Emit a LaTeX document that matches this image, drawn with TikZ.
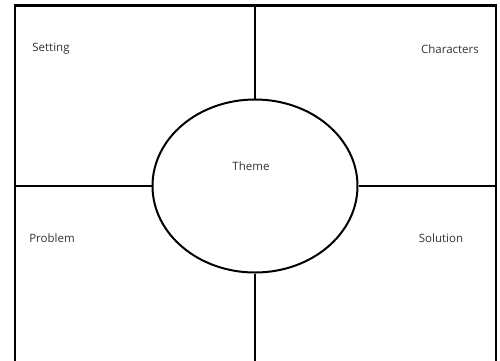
\documentclass[tikz,border=0pt]{standalone}
\usepackage{fontspec}
\setmainfont{Open Sans}
\usepackage{tikz}
\usetikzlibrary{shapes.geometric, positioning}

\tikzset{
	frameline/.style={line width=2.2pt, black},
	divider/.style={line width=1.8pt, black},
	label/.style={font=\fontsize{11.5}{13}\selectfont, text=black!80},
}

\begin{document}
\begin{tikzpicture}[x=1pt, y=-1pt]
			% Canvas:
			\useasboundingbox (0, 0) rectangle (500, 360);
			% Frame corners (open at the bottom):
			\coordinate (BL) at (15, 362);
			\coordinate (TL) at (15, 5.5);
			\coordinate (TR) at (496, 5.5);
			\coordinate (BR) at (496, 362);
			\draw[frameline] (BL) -- (TL) -- (TR) -- (BR);
			% Centre ellipse:
			\node[ellipse, draw, line width=2pt, minimum width=205pt, minimum height=173pt, inner sep=0pt](Th) at (255, 186){};
			\node[label] (ThL) at (251, 166){Theme};
			% Dividers from the ellipse to the frame:
			\coordinate (TopC) at (255, 5.5);
			\coordinate (BotC) at (255, 362);
			\coordinate (LeftC) at (15, 186);
			\coordinate (RightC) at (496, 186);
			\draw[divider] (Th.north) -- (TopC);
			\draw[divider] (Th.south) -- (BotC);
			\draw[divider] (Th.west) -- (LeftC);
			\draw[divider] (Th.east) -- (RightC);
			% Corner labels:
			\node[label] (Set) at (51, 49){Setting};
			\node[label] (Cha) at (450, 49){Characters};
			\node[label] (Pro) at (52, 238){Problem};
			\node[label] (Sol) at (441, 238){Solution};
		\end{tikzpicture}
\end{document}
